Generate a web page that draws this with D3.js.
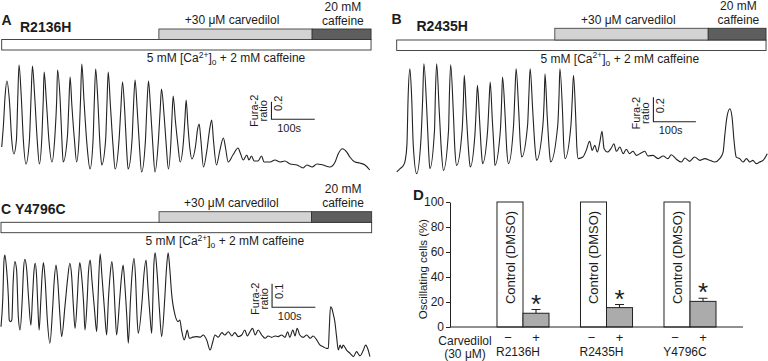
<!DOCTYPE html>
<html><head><meta charset="utf-8">
<script src="https://cdn.jsdelivr.net/npm/d3@7/dist/d3.min.js"></script>
<style>
html,body{margin:0;padding:0;background:#fff;}
svg{display:block;font-family:"Liberation Sans",Arial,Helvetica,sans-serif;}
</style></head>
<body>
<svg id="fig" width="768" height="361"></svg>
<script>
// ---------- DATA ----------
// Trace A (R2136H): time (s) and Fura-2 ratio
const traceA_t = [0,4,8,12,18,23,28,34,37,40,45,50,56,64,68,71,76,82,87,93,96,98,103,109,116,123,127,129,135,139,142,152,155,158,162,168,173,179,182,185,190,197,204,211,214,217,222,227,231,240,243,246,251,257,262,271,275,279,284,288,292,301,304,308,313,318,323,332,335,339,344,349,354,362,366,369,375,380,385,391,393,396,401,407,412,420,423,426,430,435,439,448,452,456,460,466,474,480,485,489,496,504,512,517,523,534,546,551,558,566,571,577,583,592,600,606,620,631,643,654,666,682,696,705,717,728,742,758,770,777,787,797,804,816,827,839,850];
const traceA_v = [0.602,0.852,1.193,1.352,1.114,0.693,0.523,0.682,1.136,1.534,1.193,0.682,0.409,0.682,1.193,1.523,1.193,0.682,0.409,0.739,1.136,1.455,1.136,0.682,0.432,0.739,1.136,1.477,1.136,0.682,0.432,0.739,1.080,1.398,1.080,0.682,0.432,0.739,1.136,1.545,1.136,0.625,0.352,0.682,1.136,1.489,1.136,0.625,0.398,0.682,1.080,1.455,1.080,0.625,0.352,0.682,1.023,1.341,1.023,0.625,0.352,0.682,1.023,1.364,1.023,0.625,0.318,0.682,1.023,1.352,1.023,0.625,0.318,0.682,1.023,1.261,0.966,0.625,0.352,0.682,0.909,1.182,0.909,0.625,0.432,0.682,0.909,1.136,0.852,0.568,0.466,0.625,0.795,0.864,0.682,0.375,0.568,0.795,0.909,0.682,0.398,0.568,0.705,0.591,0.432,0.511,0.591,0.534,0.455,0.511,0.455,0.5,0.443,0.443,0.5,0.432,0.432,0.455,0.432,0.443,0.409,0.398,0.364,0.398,0.375,0.409,0.398,0.375,0.432,0.523,0.583,0.545,0.489,0.432,0.420,0.398,0.341];

// Trace B (R2435H)
const traceB_t = [0,8,16,20,24,27,31,35,39,47,57,61,64,71,75,78,89,91,94,100,105,110,122,124,127,133,137,141,154,157,159,164,169,173,184,187,190,195,199,202,214,217,220,225,229,231,244,247,249,255,259,263,275,278,281,287,291,294,308,311,314,320,325,329,344,347,349,354,359,362,379,382,384,390,393,396,410,413,416,421,424,427,438,446,454,460,466,472,478,483,488,496,505,511,517,525,533,540,548,556,564,576,584,591,603,615,627,638,646,658,670,678,689,701,713,725,737,748,760,768,772,777,784,789,794,799,807,815,823,831,838,846,854,862,872];
const traceB_v = [0.23,0.257,0.284,0.325,0.448,0.858,1.076,0.858,0.448,0.216,0.492,0.820,1.117,0.721,0.410,0.257,0.574,0.861,1.117,0.738,0.410,0.243,0.574,0.861,1.109,0.738,0.410,0.284,0.574,0.820,1.022,0.697,0.410,0.270,0.533,0.738,0.940,0.656,0.410,0.298,0.574,0.779,0.967,0.656,0.410,0.284,0.574,0.820,1.008,0.697,0.410,0.298,0.615,0.861,1.076,0.738,0.451,0.352,0.615,0.861,1.076,0.738,0.451,0.325,0.615,0.820,1.035,0.697,0.410,0.311,0.615,0.861,1.076,0.738,0.451,0.339,0.615,0.820,1.022,0.697,0.426,0.339,0.352,0.407,0.481,0.407,0.448,0.393,0.475,0.563,0.420,0.393,0.426,0.461,0.399,0.434,0.380,0.416,0.380,0.399,0.366,0.388,0.399,0.361,0.366,0.339,0.361,0.339,0.371,0.334,0.311,0.344,0.317,0.352,0.325,0.339,0.325,0.311,0.339,0.393,0.530,0.680,0.748,0.680,0.475,0.352,0.339,0.311,0.339,0.311,0.325,0.298,0.311,0.325,0.380];

// Trace C (Y4796C)
const traceC_t = [0,4,7,9,13,17,19,22,25,28,32,36,40,44,49,52,55,59,64,69,73,76,79,82,85,88,92,95,98,102,107,113,119,123,127,131,136,140,148,154,159,163,167,171,176,179,182,186,191,194,199,202,206,210,216,221,224,226,229,233,239,244,248,252,256,260,264,267,274,278,282,286,291,294,299,303,307,311,314,317,326,330,335,339,344,348,351,353,356,360,366,371,378,382,386,390,394,402,409,413,417,423,427,430,435,443,452,460,467,475,483,489,494,502,510,517,525,533,540,548,556,563,569,575,581,587,594,602,610,617,625,633,640,648,656,662,667,674,679,684,690,698,706,714,721,729,737,744,752,756,758,761,764,767,771,775,779,783,787,790,798,806,814,821,829,837,842,848,852];
const traceC_v = [0.184,0.298,0.468,0.489,0.426,0.312,0.213,0.206,0.213,0.370,0.461,0.426,0.227,0.170,0.298,0.426,0.471,0.434,0.298,0.191,0.319,0.417,0.454,0.404,0.277,0.170,0.298,0.404,0.457,0.383,0.213,0.114,0.255,0.383,0.447,0.383,0.234,0.142,0.277,0.391,0.454,0.404,0.277,0.177,0.298,0.404,0.457,0.404,0.277,0.170,0.298,0.417,0.468,0.383,0.255,0.163,0.298,0.404,0.494,0.404,0.255,0.149,0.298,0.404,0.461,0.383,0.234,0.149,0.298,0.391,0.447,0.362,0.213,0.114,0.298,0.417,0.475,0.383,0.234,0.156,0.298,0.404,0.468,0.362,0.234,0.156,0.319,0.447,0.499,0.426,0.255,0.142,0.298,0.426,0.499,0.426,0.326,0.234,0.206,0.213,0.170,0.128,0.149,0.170,0.135,0.140,0.142,0.140,0.149,0.128,0.085,0.119,0.149,0.140,0.159,0.149,0.163,0.145,0.159,0.142,0.149,0.170,0.145,0.163,0.177,0.149,0.170,0.149,0.135,0.145,0.139,0.145,0.142,0.149,0.139,0.163,0.139,0.170,0.145,0.177,0.149,0.139,0.149,0.135,0.145,0.128,0.106,0.099,0.092,0.092,0.170,0.269,0.263,0.241,0.206,0.142,0.085,0.106,0.092,0.106,0.085,0.071,0.057,0.078,0.060,0.085,0.106,0.085,0.057];

// Solution protocol (s): start, carvedilol on, 20 mM caffeine on, end
const protocolA = [0, 363, 717, 853];
const protocolB = [0, 372, 733, 869];
const protocolC = [0, 365, 717, 856];
const carvLabel = "+30 \u03BCM carvedilol";
const caffLabel = ["20 mM", "caffeine"];

// Panel D
const mutants = ["R2136H", "R2435H", "Y4796C"];
const controlPct = [100, 100, 100];
const carvPct = [11, 15.5, 20.5];
const carvErr = [3, 2.5, 2.5];
const yTicksD = [0, 20, 40, 60, 80, 100];

// ---------- DRAW ----------
const svg = d3.select("#fig");
const ink = "#1c1c1c";

function drawTracePanel(cfg) {
  const g = svg.append("g");
  const x = d3.scaleLinear().domain([0, 100]).range([cfg.x0, cfg.x0 + cfg.pxPer100]);
  const y = d3.scaleLinear().domain([0, 1]).range([cfg.yBase, cfg.yBase - cfg.pxPerUnit]);
  const p = cfg.protocol;

  // letter + name
  g.append("text").attr("x", cfg.letterPos[0]).attr("y", cfg.letterPos[1])
    .attr("font-size", 14).attr("font-weight", "bold").attr("fill", ink).text(cfg.letter);
  g.append("text").attr("x", cfg.namePos[0]).attr("y", cfg.namePos[1])
    .attr("font-size", 14).attr("font-weight", "bold").attr("fill", ink).text(cfg.name);

  // protocol bars
  const bt = cfg.barTop, bm = cfg.barMid, bb = cfg.barBot;
  g.append("rect").attr("x", x(p[0])).attr("y", bm).attr("width", x(p[3]) - x(p[0])).attr("height", bb - bm)
    .attr("fill", "#fff").attr("stroke", "#333").attr("stroke-width", 0.9);
  g.append("rect").attr("x", x(p[1])).attr("y", bt).attr("width", x(p[2]) - x(p[1])).attr("height", bm - bt)
    .attr("fill", "#d3d3d3").attr("stroke", "#444").attr("stroke-width", 0.9);
  g.append("rect").attr("x", x(p[2])).attr("y", bt).attr("width", x(p[3]) - x(p[2])).attr("height", bm - bt)
    .attr("fill", "#5e5e5e").attr("stroke", "#333").attr("stroke-width", 0.9);

  g.append("text").attr("x", x(cfg.carvTextT)).attr("y", bt - 4.7).attr("text-anchor", "middle")
    .attr("font-size", 12).attr("fill", ink).text(carvLabel);
  g.append("text").attr("x", x(cfg.caffTextT)).attr("y", bt - 18.5).attr("text-anchor", "middle")
    .attr("font-size", 12).attr("fill", ink).text(caffLabel[0]);
  g.append("text").attr("x", x(cfg.caffTextT)).attr("y", bt - 4.5).attr("text-anchor", "middle")
    .attr("font-size", 12).attr("fill", ink).text(caffLabel[1]);

  const sol = g.append("text").attr("x", x(cfg.solTextT)).attr("y", bb + 12.3).attr("text-anchor", "middle")
    .attr("font-size", 12).attr("fill", ink);
  sol.append("tspan").text("5 mM [Ca");
  sol.append("tspan").attr("dy", -4.5).attr("font-size", 8.5).text("2+");
  sol.append("tspan").attr("dy", 4.5).text("]");
  sol.append("tspan").attr("dy", 3).attr("font-size", 8.5).text("o");
  sol.append("tspan").attr("dy", -3).text(" + 2 mM caffeine");

  // trace
  const pts = d3.zip(cfg.t, cfg.v);
  const line = d3.line().x(d => x(d[0])).y(d => y(d[1])).curve(d3.curveMonotoneX);
  g.append("path").datum(pts).attr("d", line).attr("fill", "none")
    .attr("stroke", "#222").attr("stroke-width", 1.1).attr("stroke-linejoin", "round");

  // scale bar
  const sb = cfg.scaleBar;
  const sx = x(sb.t), sy0 = y(sb.v), sy1 = y(sb.v + sb.dv), sx1 = x(sb.t + 100);
  g.append("path").attr("d", `M${sx},${sy1}V${sy0}H${sx1}`).attr("fill", "none")
    .attr("stroke", "#222").attr("stroke-width", 1.1);
  const midY = sy0 - 8.5;
  g.append("text").attr("transform", `translate(${sx - 13.5},${midY}) rotate(-90)`)
    .attr("text-anchor", "middle").attr("font-size", 11).attr("fill", ink).text("Fura-2");
  g.append("text").attr("transform", `translate(${sx - 4},${midY}) rotate(-90)`)
    .attr("text-anchor", "middle").attr("font-size", 11).attr("fill", ink).text("ratio");
  g.append("text").attr("transform", `translate(${sx + 10.5},${sy0 - 16}) rotate(-90)`)
    .attr("text-anchor", "middle").attr("font-size", 11).attr("fill", ink).text(sb.label);
  g.append("text").attr("x", (sx + sx1) / 2 - 4).attr("y", sy0 + 12.5)
    .attr("text-anchor", "middle").attr("font-size", 11).attr("fill", ink).text("100s");
}

drawTracePanel({
  letter: "A", name: "R2136H", letterPos: [1.5, 25], namePos: [20, 31.5],
  t: traceA_t, v: traceA_v, protocol: protocolA,
  x0: 1.7, pxPer100: 43.3, yBase: 200, pxPerUnit: 88,
  barTop: 29, barMid: 39.5, barBot: 50,
  carvTextT: 532, caffTextT: 788, solTextT: 518,
  scaleBar: { t: 623, v: 0.917, dv: 0.2, label: "0.2" }
});
drawTracePanel({
  letter: "B", name: "R2435H", letterPos: [391.5, 23.5], namePos: [416.5, 31],
  t: traceB_t, v: traceB_v, protocol: protocolB,
  x0: 396.7, pxPer100: 42.5, yBase: 200, pxPerUnit: 122,
  barTop: 28.3, barMid: 40, barBot: 50.5,
  carvTextT: 545, caffTextT: 804, solTextT: 525,
  scaleBar: { t: 604, v: 0.642, dv: 0.2, label: "0.2" }
});
drawTracePanel({
  letter: "C", name: "Y4796C", letterPos: [1, 214], namePos: [15, 213.5],
  t: traceC_t, v: traceC_v, protocol: protocolC,
  x0: 1, pxPer100: 43.3, yBase: 370, pxPerUnit: 235,
  barTop: 211.7, barMid: 222.3, barBot: 232.7,
  carvTextT: 532, caffTextT: 790, solTextT: 517,
  scaleBar: { t: 626, v: 0.267, dv: 0.1, label: "0.1" }
});

// ---------- Panel D ----------
const gD = svg.append("g");
const yD = d3.scaleLinear().domain([0, 100]).range([327, 202]);
const xD = d3.scaleBand().domain(mutants).range([481.25, 731.75]).paddingInner(0.377).paddingOuter(0.1885);
const xSub = d3.scaleBand().domain(["ctrl", "carv"]).range([0, xD.bandwidth()]);

gD.append("text").attr("x", 413).attr("y", 200).attr("font-size", 15).attr("font-weight", "bold")
  .attr("fill", ink).text("D");

// bars
mutants.forEach((m, i) => {
  const gx = xD(m);
  gD.append("rect").attr("x", gx + xSub("ctrl")).attr("y", yD(controlPct[i]))
    .attr("width", xSub.bandwidth()).attr("height", yD(0) - yD(controlPct[i]))
    .attr("fill", "#fff").attr("stroke", "#222").attr("stroke-width", 1);
  gD.append("rect").attr("x", gx + xSub("carv")).attr("y", yD(carvPct[i]))
    .attr("width", xSub.bandwidth()).attr("height", yD(0) - yD(carvPct[i]))
    .attr("fill", "#ababab").attr("stroke", "#222").attr("stroke-width", 1);
  const cx = gx + xSub("carv") + xSub.bandwidth() / 2;
  const ytop = yD(carvPct[i] + carvErr[i]);
  gD.append("path").attr("d", `M${cx},${yD(carvPct[i])}V${ytop}M${cx - 4.5},${ytop}H${cx + 4.5}`)
    .attr("stroke", "#222").attr("stroke-width", 1.1).attr("fill", "none");
  gD.append("text").attr("x", cx).attr("y", ytop + 3).attr("text-anchor", "middle")
    .attr("font-size", 26).attr("fill", ink).text("*");
  const ccx = gx + xSub("ctrl") + xSub.bandwidth() / 2;
  gD.append("text").attr("transform", `translate(${ccx},257.5) rotate(-90)`)
    .attr("dy", "0.35em").attr("text-anchor", "middle").attr("font-size", 13)
    .attr("fill", ink).text("Control (DMSO)");
  // category labels
  gD.append("text").attr("x", ccx - 2).attr("y", 342).attr("text-anchor", "middle")
    .attr("font-size", 13).attr("fill", ink).text("\u2212");
  gD.append("text").attr("x", cx).attr("y", 342).attr("text-anchor", "middle")
    .attr("font-size", 13).attr("fill", ink).text("+");
  gD.append("text").attr("x", gx + xD.bandwidth() / 2 - 5).attr("y", 356).attr("text-anchor", "middle")
    .attr("font-size", 12).attr("fill", ink).text(m);
});

// axes
const axL = d3.axisLeft(yD).tickValues(yTicksD).tickSize(4).tickSizeOuter(0).tickPadding(2);
const ga = gD.append("g").attr("transform", "translate(450,0)").call(axL);
ga.selectAll("text").attr("font-size", 12).attr("font-family", "'Liberation Sans',Arial,sans-serif").attr("fill", ink);
ga.selectAll("line,path").attr("stroke", "#222");
gD.append("line").attr("x1", 450).attr("x2", 743).attr("y1", yD(0)).attr("y2", yD(0))
  .attr("stroke", "#222").attr("stroke-width", 1);

gD.append("text").attr("transform", "translate(427,269) rotate(-90)").attr("text-anchor", "middle")
  .attr("font-size", 11.5).attr("fill", ink).text("Oscillating cells (%)");
gD.append("text").attr("x", 465).attr("y", 344.5).attr("text-anchor", "middle")
  .attr("font-size", 12).attr("fill", ink).text("Carvedilol");
gD.append("text").attr("x", 465).attr("y", 357.5).attr("text-anchor", "middle")
  .attr("font-size", 12).attr("fill", ink).text("(30 \u03BCM)");
</script>
</body></html>
